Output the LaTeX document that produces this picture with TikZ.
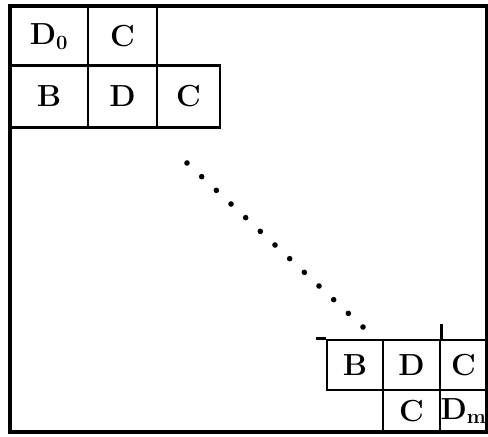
\documentclass[tikz,border=0pt]{standalone}
\usepackage{tikz}
\usetikzlibrary{positioning, calc}

\begin{document}
\begin{tikzpicture}[
        x=0.03cm, y=-0.03cm,
        cell/.style={
            rectangle,
            draw=black,
            line width=2.3pt,
            inner sep=0pt,
            align=center,
            font=\bfseries\fontsize{26}{28}\selectfont
        },
        frame/.style={
            draw=black,
            line width=2.6pt
        },
        dot/.style={
            fill=black
        }
    ]
        \useasboundingbox (0,0) rectangle (488,436);

        % Frame
        \draw[frame] (10,6) rectangle (487,432);

        % Nodes (upper left)
        \node[cell, minimum width=78*0.03cm, minimum height=59*0.03cm] (dnull) at (49,36.5) {D$_{\mathbf 0}$};
        \node[cell, minimum width=69*0.03cm, minimum height=59*0.03cm] (cobere) at (122.5,36.5) {C};
        \node[cell, minimum width=78*0.03cm, minimum height=62*0.03cm] (blinks) at (49,96.5) {B};
        \node[cell, minimum width=69*0.03cm, minimum height=62*0.03cm] (dlinks) at (122.5,96.5) {D};
        \node[cell, minimum width=63*0.03cm, minimum height=62*0.03cm] (clinks) at (188.5,96.5) {C};

        % Nodes (lower right)
        \node[cell, minimum width=56*0.03cm, minimum height=50*0.03cm] (brechts) at (355,365) {B};
        \node[cell, minimum width=57*0.03cm, minimum height=50*0.03cm] (drechts) at (411.5,365) {D};
        \node[cell, minimum width=47*0.03cm, minimum height=50*0.03cm] (crechts) at (463.5,365) {C};
        \node[cell, minimum width=57*0.03cm, minimum height=42*0.03cm] (cunten) at (411.5,411) {C};
        \node[cell, minimum width=47*0.03cm, minimum height=42*0.03cm] (dm) at (463.5,411) {D$_{\mathbf m}$};

        % Overhangs
        \draw[line width=2.3pt] (brechts.north west) -- ++(-10,0);
        \draw[line width=2.3pt] (drechts.north east) -- ++(0,-15);

        % Dots
        \coordinate (dotstart) at (187,163);
        \coordinate (dotend) at (363,327);
        \foreach \i in {0,...,12}
            \fill[dot] ($(dotstart)!\i/12!(dotend)$) circle (2.8);
    \end{tikzpicture}
\end{document}
